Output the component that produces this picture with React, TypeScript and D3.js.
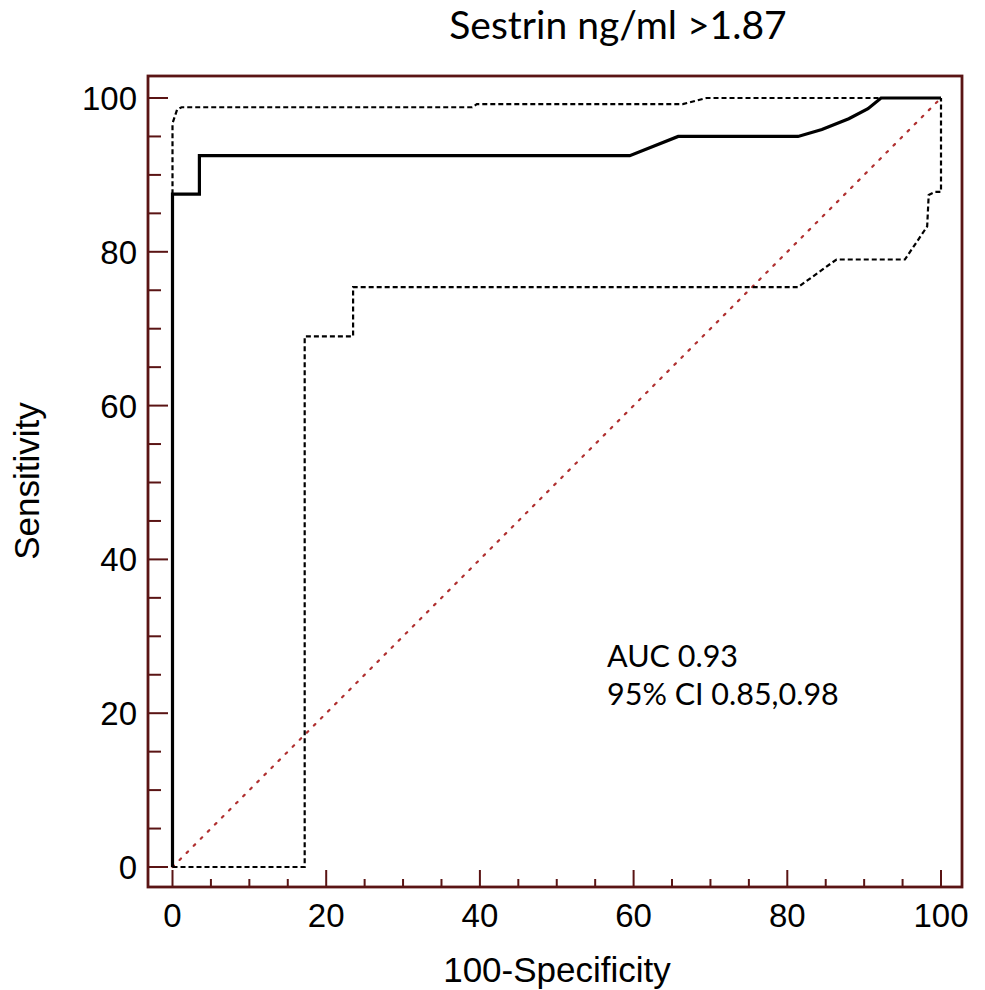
import React from 'react'
import * as d3 from 'd3'

// ROC curve (100-specificity, sensitivity)
const rocX = [0, 0, 3.5, 3.5, 59.5, 65.8, 81.4, 84.5, 88, 90.5, 92.2, 100]
const rocY = [0, 87.5, 87.5, 92.5, 92.5, 95, 95, 95.9, 97.3, 98.6, 100, 100]

// upper 95% confidence bound
const upperX = [0, 0, 0.6, 1.2, 39, 39.6, 66.4, 69.5, 100]
const upperY = [87.5, 96.7, 98.5, 98.8, 98.8, 99.2, 99.2, 100, 100]

// lower 95% confidence bound
const lowerX = [0, 17.2, 17.2, 23.5, 23.5, 81.4, 86.4, 95.3, 98.2, 98.4, 99.2, 100, 100]
const lowerY = [0, 0, 69, 69, 75.4, 75.4, 79, 79, 83.3, 87.4, 87.8, 87.8, 100]

const majorTicks = [0, 20, 40, 60, 80, 100]
const minorTicks = [5, 10, 15, 25, 30, 35, 45, 50, 55, 65, 70, 75, 85, 90, 95]

const title = 'Sestrin ng/ml >1.87'
const xTitle = '100-Specificity'
const yTitle = 'Sensitivity'
const notes = ['AUC 0.93', '95% CI 0.85,0.98']

const W = 985
const H = 990
const frame = { left: 148, top: 76, right: 962, bottom: 887 }
const frameColor = '#5a1414'

const x = d3.scaleLinear().domain([0, 100]).range([172.5, 941])
const y = d3.scaleLinear().domain([0, 100]).range([867, 98])

const toPts = (xs: number[], ys: number[]) => xs.map((v, i) => [v, ys[i]] as [number, number])
const line = d3.line<[number, number]>().x(d => x(d[0])).y(d => y(d[1]))

const sans = '"Liberation Sans", Arial, sans-serif'
const humanist = 'Lato, "Open Sans", sans-serif'

export default function App() {
  return (
    <svg width={W} height={H} style={{ position: 'absolute', left: 0, top: 0, background: '#fff' }}>
      <rect width={W} height={H} fill="#fff" />

      {/* ticks on the inside of the frame */}
      {majorTicks.map(t => (
        <g key={'M' + t} stroke={frameColor} strokeWidth={2}>
          <line x1={x(t)} x2={x(t)} y1={frame.bottom} y2={frame.bottom - 17} />
          <line x1={frame.left} x2={frame.left + 20} y1={y(t)} y2={y(t)} />
        </g>
      ))}
      {minorTicks.map(t => (
        <g key={'m' + t} stroke={frameColor} strokeWidth={2}>
          <line x1={x(t)} x2={x(t)} y1={frame.bottom} y2={frame.bottom - 8} />
          <line x1={frame.left} x2={frame.left + 13} y1={y(t)} y2={y(t)} />
        </g>
      ))}

      {/* diagonal reference */}
      <line x1={x(0)} y1={y(0)} x2={x(100)} y2={y(100)} stroke="#b03030" strokeWidth={2.2}
        strokeDasharray="2 8" strokeLinecap="round" />

      <path d={line(toPts(upperX, upperY)) ?? ''} fill="none" stroke="#000" strokeWidth={2.2} strokeDasharray="5 3" />
      <path d={line(toPts(lowerX, lowerY)) ?? ''} fill="none" stroke="#000" strokeWidth={2.2} strokeDasharray="5 3" />
      <path d={line(toPts(rocX, rocY)) ?? ''} fill="none" stroke="#000" strokeWidth={3.2} />

      <rect x={frame.left} y={frame.top} width={frame.right - frame.left} height={frame.bottom - frame.top}
        fill="none" stroke={frameColor} strokeWidth={2.8} />

      {majorTicks.map(t => (
        <text key={'xl' + t} x={x(t)} y={927} textAnchor="middle" fontFamily={sans} fontSize={33} fill="#000">{t}</text>
      ))}
      {majorTicks.map(t => (
        <text key={'yl' + t} x={137} y={y(t) + 12} textAnchor="end" fontFamily={sans} fontSize={33} fill="#000">{t}</text>
      ))}

      <text x={557} y={982} textAnchor="middle" fontFamily={sans} fontSize={35} fill="#000">{xTitle}</text>
      <text transform={`translate(39,481) rotate(-90)`} textAnchor="middle" fontFamily={sans} fontSize={35} fill="#000">{yTitle}</text>

      <text x={618} y={39} textAnchor="middle" fontFamily={humanist} fontSize={39} fill="#000">{title}</text>

      {notes.map((n, i) => (
        <text key={n} x={607} y={667 + i * 38} fontFamily={humanist} fontSize={30.5} fill="#000">{n}</text>
      ))}
    </svg>
  )
}
